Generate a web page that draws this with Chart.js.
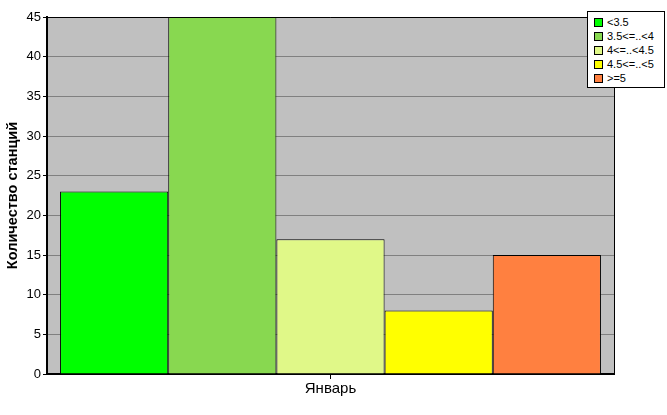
<!DOCTYPE html>
<html>
<head>
<meta charset="utf-8">
<script src="https://cdn.jsdelivr.net/npm/chart.js@4"></script>
<style>
  body { margin: 0; background: #fff; }
  #wrap { position: relative; width: 667px; height: 415px; }
  #legend {
    position: absolute; left: 587px; top: 11px; width: 76px;
    background: #fff; border: 1px solid #000; padding: 3px 0 2px 0;
    font: 11px "Liberation Sans", Arial, sans-serif; color: #000;
  }
  #legend div { height: 14px; line-height: 14px; white-space: nowrap; }
  #legend span.box {
    display: inline-block; width: 7px; height: 7px; border: 1px solid #000;
    margin: 0 4px 0 6px; vertical-align: -1px;
  }
</style>
</head>
<body>
<div id="wrap">
  <canvas id="canvas" width="667" height="415"></canvas>
  <div id="legend"></div>
</div>
<script>
var categories = ['Январь'];
var seriesNames = ['<3.5', '3.5<=..<4', '4<=..<4.5', '4.5<=..<5', '>=5'];
var seriesValues = [[23], [45], [17], [8], [15]];
var seriesColors = ['#00ff00', '#88d850', '#e0f888', '#ffff00', '#ff8040'];
var yTitle = 'Количество станций';

var plotBack = {
    id: 'plotBack',
    beforeDraw: function (chart) {
        var a = chart.chartArea, ctx = chart.ctx;
        ctx.save();
        ctx.fillStyle = '#c0c0c0';
        ctx.fillRect(a.left, a.top, a.right - a.left, a.bottom - a.top);
        ctx.restore();
    },
    afterDraw: function (chart) {
        var a = chart.chartArea, ctx = chart.ctx;
        ctx.save();
        ctx.strokeStyle = '#000';
        ctx.lineWidth = 1;
        ctx.beginPath();
        ctx.moveTo(a.left, a.top + 0.5);
        ctx.lineTo(a.right + 0.5, a.top + 0.5);
        ctx.lineTo(a.right + 0.5, a.bottom);
        ctx.stroke();
        ctx.restore();
    }
};

var datasets = seriesNames.map(function (name, i) {
    return {
        label: name,
        data: seriesValues[i],
        backgroundColor: seriesColors[i],
        borderColor: '#000',
        borderWidth: 1,
        categoryPercentage: 0.954,
        barPercentage: 1
    };
});

var legend = document.getElementById('legend');
seriesNames.forEach(function (name, i) {
    var row = document.createElement('div');
    var box = document.createElement('span');
    box.className = 'box';
    box.style.background = seriesColors[i];
    row.appendChild(box);
    row.appendChild(document.createTextNode(name));
    legend.appendChild(row);
});

var family = '"Liberation Sans", Arial, sans-serif';

new Chart(document.getElementById('canvas').getContext('2d'), {
    type: 'bar',
    data: { labels: categories, datasets: datasets },
    options: {
        responsive: false,
        animation: false,
        layout: { padding: { top: 17, right: 53, left: 0, bottom: 0 } },
        plugins: { legend: { display: false }, tooltip: { enabled: false } },
        scales: {
            x: {
                grid: { drawOnChartArea: false, offset: false, tickLength: 5, tickColor: '#000' },
                border: { color: '#000', width: 2 },
                ticks: { color: '#000', font: { family: family, size: 15 }, padding: 1 },
                afterFit: function (s) { s.height = 41; }
            },
            y: {
                min: 0, max: 45,
                ticks: { stepSize: 5, color: '#000', font: { family: family, size: 13 }, padding: 2 },
                grid: { color: '#808080', tickColor: '#000', tickLength: 4 },
                border: { color: '#000', width: 2 },
                title: { display: true, text: yTitle, color: '#000', padding: { top: 4, bottom: 0 },
                         font: { family: family, size: 14.5, weight: 'bold' } },
                afterFit: function (s) { s.width = 47; }
            }
        }
    },
    plugins: [plotBack]
});
</script>
</body>
</html>
